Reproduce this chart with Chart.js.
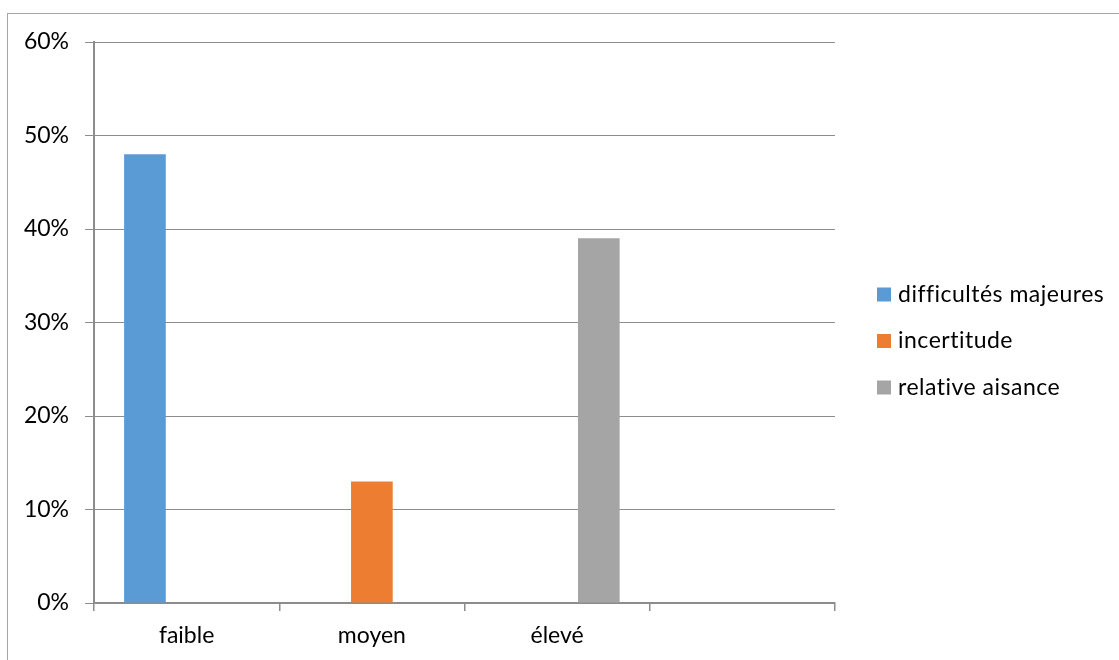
<!DOCTYPE html>
<html>
<head>
<meta charset="utf-8">
<script src="https://cdn.jsdelivr.net/npm/chart.js@4/dist/chart.umd.min.js"></script>
<style>
    body { margin: 0; background: #fff; }
    #wrap { position: relative; width: 1119px; height: 660px; overflow: hidden; }
    #frame { position: absolute; left: 7px; top: 13px; width: 1200px; height: 700px;
             border-top: 1px solid #a6a6a6; border-left: 1px solid #a6a6a6; }
    #chart { position: absolute; left: 0; top: 0; }
</style>
</head>
<body>
<div id="wrap">
    <div id="frame"></div>
    <canvas id="chart" width="1119" height="660"></canvas>
</div>
<script>
// catégories (la 4e est vide dans l'original)
const categories = ['faible', 'moyen', 'élevé', ''];
const seriesNames = ['difficultés majeures', 'incertitude', 'relative aisance'];
const seriesColors = ['#5B9BD5', '#ED7D31', '#A5A5A5'];

// valeurs en %
const difficultes = [48, null, null, null];
const incertitude = [null, 13, null, null];
const aisance = [null, null, 39, null];

const yTicks = [0, 10, 20, 30, 40, 50, 60];

const FONT = "Lato, 'Open Sans', sans-serif";
const GRID = '#8c8c8c';

// légende dessinée à la main pour la placer comme dans Excel
const sideLegend = {
    id: 'sideLegend',
    afterDraw(chart) {
        const ctx = chart.ctx;
        const area = chart.chartArea;
        const x0 = area.right + 42;
        const yMid = (area.top + area.bottom) / 2 + 18.5;
        const step = 46.5;
        ctx.save();
        ctx.font = '23px ' + FONT;
        ctx.letterSpacing = '0.5px'; // casse les ligatures fi / ti de Lato
        ctx.textBaseline = 'middle';
        ctx.textAlign = 'left';
        chart.data.datasets.forEach((ds, i) => {
            const y = yMid + (i - 1) * step;
            ctx.fillStyle = ds.backgroundColor;
            ctx.fillRect(x0, y - 7, 14, 14);
            ctx.fillStyle = '#000';
            ctx.fillText(ds.label, x0 + 21, y);
        });
        ctx.restore();
    }
};

const ctx = document.getElementById('chart').getContext('2d');

new Chart(ctx, {
    type: 'bar',
    data: {
        labels: categories,
        datasets: [
            { label: seriesNames[0], data: difficultes, backgroundColor: seriesColors[0] },
            { label: seriesNames[1], data: incertitude, backgroundColor: seriesColors[1] },
            { label: seriesNames[2], data: aisance, backgroundColor: seriesColors[2] }
        ]
    },
    options: {
        responsive: false,
        animation: false,
        layout: { padding: { left: 7, top: 42, right: 284, bottom: 0 } },
        datasets: {
            bar: { categoryPercentage: 0.675, barPercentage: 1, borderWidth: 0 }
        },
        plugins: {
            legend: { display: false },
            tooltip: { enabled: false }
        },
        scales: {
            x: {
                afterFit: s => { s.height = 57; },
                grid: { drawOnChartArea: false, drawTicks: true, tickLength: 8, color: GRID, lineWidth: 1.5, offset: true },
                border: { display: true, color: GRID, width: 2 },
                ticks: { color: '#000', font: { family: FONT, size: 23 }, padding: 11, maxRotation: 0 }
            },
            y: {
                min: 0,
                max: 60,
                afterFit: s => { s.width = 87; },
                afterBuildTicks: s => { s.ticks = yTicks.map(v => ({ value: v })); },
                grid: { color: GRID, lineWidth: 1, drawTicks: true, tickLength: 9 },
                border: { display: true, color: GRID, width: 2 },
                ticks: {
                    color: '#000',
                    font: { family: FONT, size: 23 },
                    padding: 16,
                    callback: v => v + '%'
                }
            }
        }
    },
    plugins: [sideLegend]
});
</script>
</body>
</html>
